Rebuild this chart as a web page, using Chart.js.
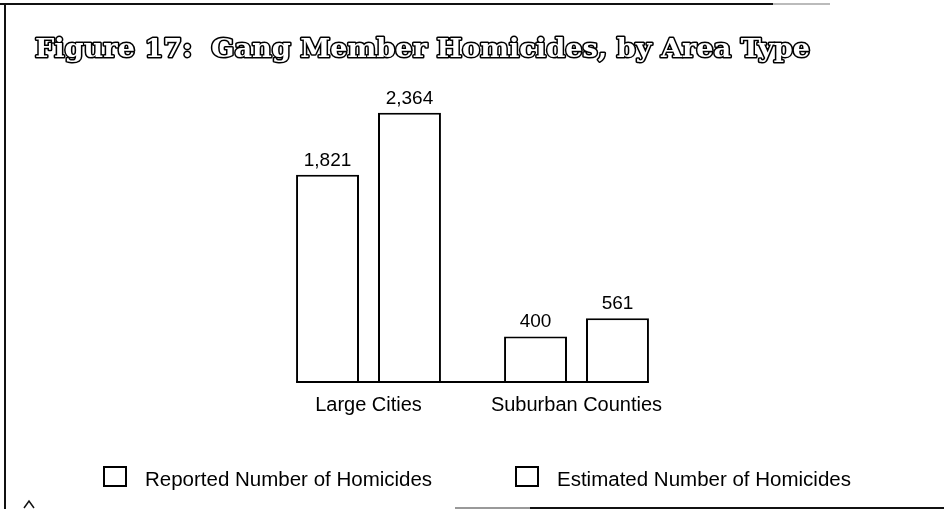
<!DOCTYPE html>
<html>
<head>
<meta charset="utf-8">
<script src="https://cdn.jsdelivr.net/npm/chart.js@4/dist/chart.umd.min.js"></script>
<style>
  html, body { margin: 0; padding: 0; background: #fff; }
  #wrap { width: 944px; height: 509px; position: relative; }
</style>
</head>
<body>
<div id="wrap"><canvas id="c" width="944" height="509"></canvas></div>
<script>
const titleText = "Figure 17:  Gang Member Homicides, by Area Type";
const categories = ["Large Cities", "Suburban Counties"];
const seriesNames = ["Reported Number of Homicides", "Estimated Number of Homicides"];
const reported = [1821, 400];
const estimated = [2364, 561];

const SANS = "'Liberation Sans', Arial, Helvetica, sans-serif";

const framePlugin = {
  id: 'frame',
  afterDraw(chart) {
    const ctx = chart.ctx;
    ctx.save();
    ctx.lineCap = 'butt';
    ctx.strokeStyle = '#111';
    ctx.lineWidth = 2;
    ctx.beginPath(); ctx.moveTo(5, 4); ctx.lineTo(5, 509); ctx.stroke();
    ctx.beginPath(); ctx.moveTo(0, 4); ctx.lineTo(773, 4); ctx.stroke();
    ctx.strokeStyle = '#bbb';
    ctx.beginPath(); ctx.moveTo(773, 4); ctx.lineTo(830, 4); ctx.stroke();
    ctx.strokeStyle = '#999';
    ctx.beginPath(); ctx.moveTo(455, 508); ctx.lineTo(530, 508); ctx.stroke();
    ctx.strokeStyle = '#111';
    ctx.beginPath(); ctx.moveTo(530, 508); ctx.lineTo(944, 508); ctx.stroke();
    // small caret mark at bottom-left
    ctx.lineWidth = 1.5;
    ctx.beginPath(); ctx.moveTo(24, 508); ctx.lineTo(29, 501); ctx.lineTo(34, 508); ctx.stroke();
    ctx.restore();
  }
};

const titlePlugin = {
  id: 'outlineTitle',
  afterDraw(chart) {
    const ctx = chart.ctx;
    ctx.save();
    ctx.font = "bold 26px 'DejaVu Serif', 'Liberation Serif', serif";
    ctx.textBaseline = 'alphabetic';
    ctx.textAlign = 'left';
    const w = ctx.measureText(titleText).width;
    const targetW = 775;
    ctx.translate(35, 57);
    ctx.scale(targetW / w, 1);
    ctx.lineJoin = 'round';
    ctx.strokeStyle = '#000';
    ctx.lineWidth = 3;
    ctx.strokeText(titleText, 0, 0);
    ctx.fillStyle = '#fff';
    ctx.fillText(titleText, 0, 0);
    ctx.restore();
  }
};

const valuePlugin = {
  id: 'values',
  afterDatasetsDraw(chart) {
    const ctx = chart.ctx;
    ctx.save();
    ctx.font = "19px " + SANS;
    ctx.fillStyle = '#000';
    ctx.textAlign = 'center';
    ctx.textBaseline = 'alphabetic';
    let minX = Infinity, maxX = -Infinity;
    chart.data.datasets.forEach((ds, di) => {
      const meta = chart.getDatasetMeta(di);
      meta.data.forEach((bar, i) => {
        const v = ds.data[i];
        ctx.fillText(v.toLocaleString('en-US'), bar.x, bar.y - 9);
        minX = Math.min(minX, bar.x - bar.width / 2);
        maxX = Math.max(maxX, bar.x + bar.width / 2);
      });
    });
    const y0 = chart.scales.y.getPixelForValue(0);
    ctx.strokeStyle = '#000';
    ctx.lineWidth = 2;
    ctx.beginPath();
    ctx.moveTo(minX, y0);
    ctx.lineTo(maxX, y0);
    ctx.stroke();
    ctx.restore();
  }
};

const legendPlugin = {
  id: 'customLegend',
  afterDraw(chart) {
    const ctx = chart.ctx;
    const boxX = [104, 516];
    const textX = [145, 557];
    const boxTop = 467;
    const baseY = 486;
    ctx.save();
    ctx.font = "20.5px " + SANS;
    ctx.fillStyle = '#000';
    ctx.textBaseline = 'alphabetic';
    ctx.textAlign = 'left';
    ctx.strokeStyle = '#000';
    ctx.lineWidth = 2;
    chart.data.datasets.forEach((ds, i) => {
      ctx.strokeRect(boxX[i], boxTop, 22, 19);
      ctx.fillText(ds.label, textX[i], baseY);
    });
    ctx.restore();
  }
};

new Chart(document.getElementById('c'), {
  type: 'bar',
  data: {
    labels: categories,
    datasets: [
      { label: seriesNames[0], data: reported, backgroundColor: '#fff', borderColor: '#000', borderWidth: 2, borderSkipped: 'start' },
      { label: seriesNames[1], data: estimated, backgroundColor: '#fff', borderColor: '#000', borderWidth: 2, borderSkipped: 'start' }
    ]
  },
  options: {
    responsive: false,
    animation: false,
    devicePixelRatio: 1,
    categoryPercentage: 0.788,
    barPercentage: 0.768,
    layout: { padding: { left: 264.5, right: 263.5, top: 86, bottom: 81 } },
    plugins: {
      legend: { display: false },
      title: { display: false },
      tooltip: { enabled: false }
    },
    scales: {
      x: {
        grid: { display: false, drawTicks: false },
        border: { display: false },
        ticks: { color: '#000', font: { family: SANS, size: 20 }, padding: 11, maxRotation: 0 }
      },
      y: {
        display: false,
        min: 0,
        max: 2600
      }
    }
  },
  plugins: [framePlugin, titlePlugin, valuePlugin, legendPlugin]
});
</script>
</body>
</html>
